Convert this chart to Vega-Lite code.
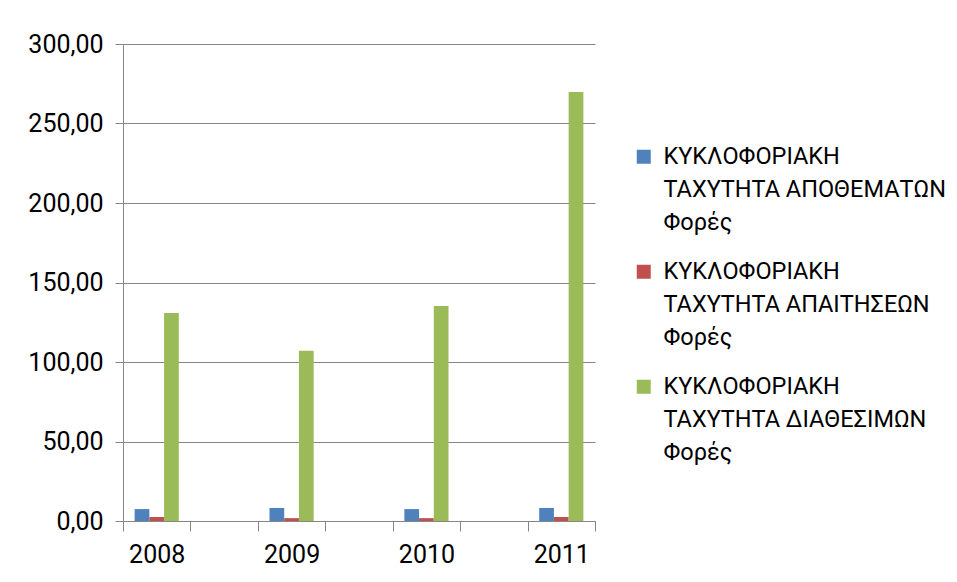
{
  "$schema": "https://vega.github.io/schema/vega-lite/v6.json",
  "width": 472,
  "height": 477,
  "autosize": {"type": "none"},
  "padding": {"left": 123, "top": 44, "right": 362, "bottom": 61},
  "background": "white",
  "config": {
    "font": "Roboto, sans-serif",
    "view": {"stroke": null},
    "style": {"guide-label": {"lineHeight": 33}}
  },
  "data": {
    "values": [
      {"year": "2008", "series": "ΚΥΚΛΟΦΟΡΙΑΚΗ|ΤΑΧΥΤΗΤΑ ΑΠΟΘΕΜΑΤΩΝ|Φορές", "value": 7.5},
      {"year": "2008", "series": "ΚΥΚΛΟΦΟΡΙΑΚΗ|ΤΑΧΥΤΗΤΑ ΑΠΑΙΤΗΣΕΩΝ|Φορές", "value": 2.5},
      {"year": "2008", "series": "ΚΥΚΛΟΦΟΡΙΑΚΗ|ΤΑΧΥΤΗΤΑ ΔΙΑΘΕΣΙΜΩΝ|Φορές", "value": 130.8},
      {"year": "2009", "series": "ΚΥΚΛΟΦΟΡΙΑΚΗ|ΤΑΧΥΤΗΤΑ ΑΠΟΘΕΜΑΤΩΝ|Φορές", "value": 8.2},
      {"year": "2009", "series": "ΚΥΚΛΟΦΟΡΙΑΚΗ|ΤΑΧΥΤΗΤΑ ΑΠΑΙΤΗΣΕΩΝ|Φορές", "value": 1.8},
      {"year": "2009", "series": "ΚΥΚΛΟΦΟΡΙΑΚΗ|ΤΑΧΥΤΗΤΑ ΔΙΑΘΕΣΙΜΩΝ|Φορές", "value": 107.0},
      {"year": "2010", "series": "ΚΥΚΛΟΦΟΡΙΑΚΗ|ΤΑΧΥΤΗΤΑ ΑΠΟΘΕΜΑΤΩΝ|Φορές", "value": 7.5},
      {"year": "2010", "series": "ΚΥΚΛΟΦΟΡΙΑΚΗ|ΤΑΧΥΤΗΤΑ ΑΠΑΙΤΗΣΕΩΝ|Φορές", "value": 1.8},
      {"year": "2010", "series": "ΚΥΚΛΟΦΟΡΙΑΚΗ|ΤΑΧΥΤΗΤΑ ΔΙΑΘΕΣΙΜΩΝ|Φορές", "value": 135.2},
      {"year": "2011", "series": "ΚΥΚΛΟΦΟΡΙΑΚΗ|ΤΑΧΥΤΗΤΑ ΑΠΟΘΕΜΑΤΩΝ|Φορές", "value": 8.2},
      {"year": "2011", "series": "ΚΥΚΛΟΦΟΡΙΑΚΗ|ΤΑΧΥΤΗΤΑ ΑΠΑΙΤΗΣΕΩΝ|Φορές", "value": 2.5},
      {"year": "2011", "series": "ΚΥΚΛΟΦΟΡΙΑΚΗ|ΤΑΧΥΤΗΤΑ ΔΙΑΘΕΣΙΜΩΝ|Φορές", "value": 269.8}
    ]
  },
  "mark": {"type": "bar"},
  "encoding": {
    "x": {
      "field": "year",
      "type": "nominal",
      "scale": {"domain": ["2008", "a1", "2009", "a2", "2010", "a3", "2011"], "paddingInner": 0, "paddingOuter": 0},
      "axis": {
        "title": null,
        "tickBand": "extent",
        "labelAngle": 0,
        "labelAlign": "center",
        "labelOverlap": false,
        "labelExpr": "indexof(datum.label, '20') == 0 ? datum.label : ''",
        "labelFontSize": 25,
        "labelColor": "#000000",
        "labelPadding": 11,
        "tickSize": 10,
        "tickColor": "#868686",
        "domainColor": "#868686",
        "grid": false
      }
    },
    "xOffset": {
      "field": "series",
      "type": "nominal",
      "sort": ["ΚΥΚΛΟΦΟΡΙΑΚΗ|ΤΑΧΥΤΗΤΑ ΑΠΟΘΕΜΑΤΩΝ|Φορές", "ΚΥΚΛΟΦΟΡΙΑΚΗ|ΤΑΧΥΤΗΤΑ ΑΠΑΙΤΗΣΕΩΝ|Φορές", "ΚΥΚΛΟΦΟΡΙΑΚΗ|ΤΑΧΥΤΗΤΑ ΔΙΑΘΕΣΙΜΩΝ|Φορές"],
      "scale": {"paddingInner": 0, "paddingOuter": 0.79}
    },
    "y": {
      "field": "value",
      "type": "quantitative",
      "scale": {"domain": [0, 300], "nice": false},
      "axis": {
        "title": null,
        "values": [0, 50, 100, 150, 200, 250, 300],
        "labelExpr": "replace(format(datum.value, '.2f'), '.', ',')",
        "labelFontSize": 25,
        "labelColor": "#000000",
        "labelPadding": 12,
        "tickSize": 8,
        "tickColor": "#868686",
        "domainColor": "#868686",
        "gridColor": "#868686",
        "grid": true
      }
    },
    "color": {
      "field": "series",
      "type": "nominal",
      "scale": {
        "domain": ["ΚΥΚΛΟΦΟΡΙΑΚΗ|ΤΑΧΥΤΗΤΑ ΑΠΟΘΕΜΑΤΩΝ|Φορές", "ΚΥΚΛΟΦΟΡΙΑΚΗ|ΤΑΧΥΤΗΤΑ ΑΠΑΙΤΗΣΕΩΝ|Φορές", "ΚΥΚΛΟΦΟΡΙΑΚΗ|ΤΑΧΥΤΗΤΑ ΔΙΑΘΕΣΙΜΩΝ|Φορές"],
        "range": ["#4F81BD", "#C0504D", "#9BBB59"]
      },
      "legend": {
        "title": null,
        "orient": "none",
        "legendX": 509,
        "legendY": 101,
        "symbolType": "square",
        "symbolSize": 196,
        "symbolStrokeWidth": 0,
        "labelExpr": "split(datum.label, '|')",
        "labelFontSize": 23.5,
        "labelColor": "#000000",
        "labelLimit": 400,
        "labelOffset": 8,
        "rowPadding": 24
      }
    }
  }
}
